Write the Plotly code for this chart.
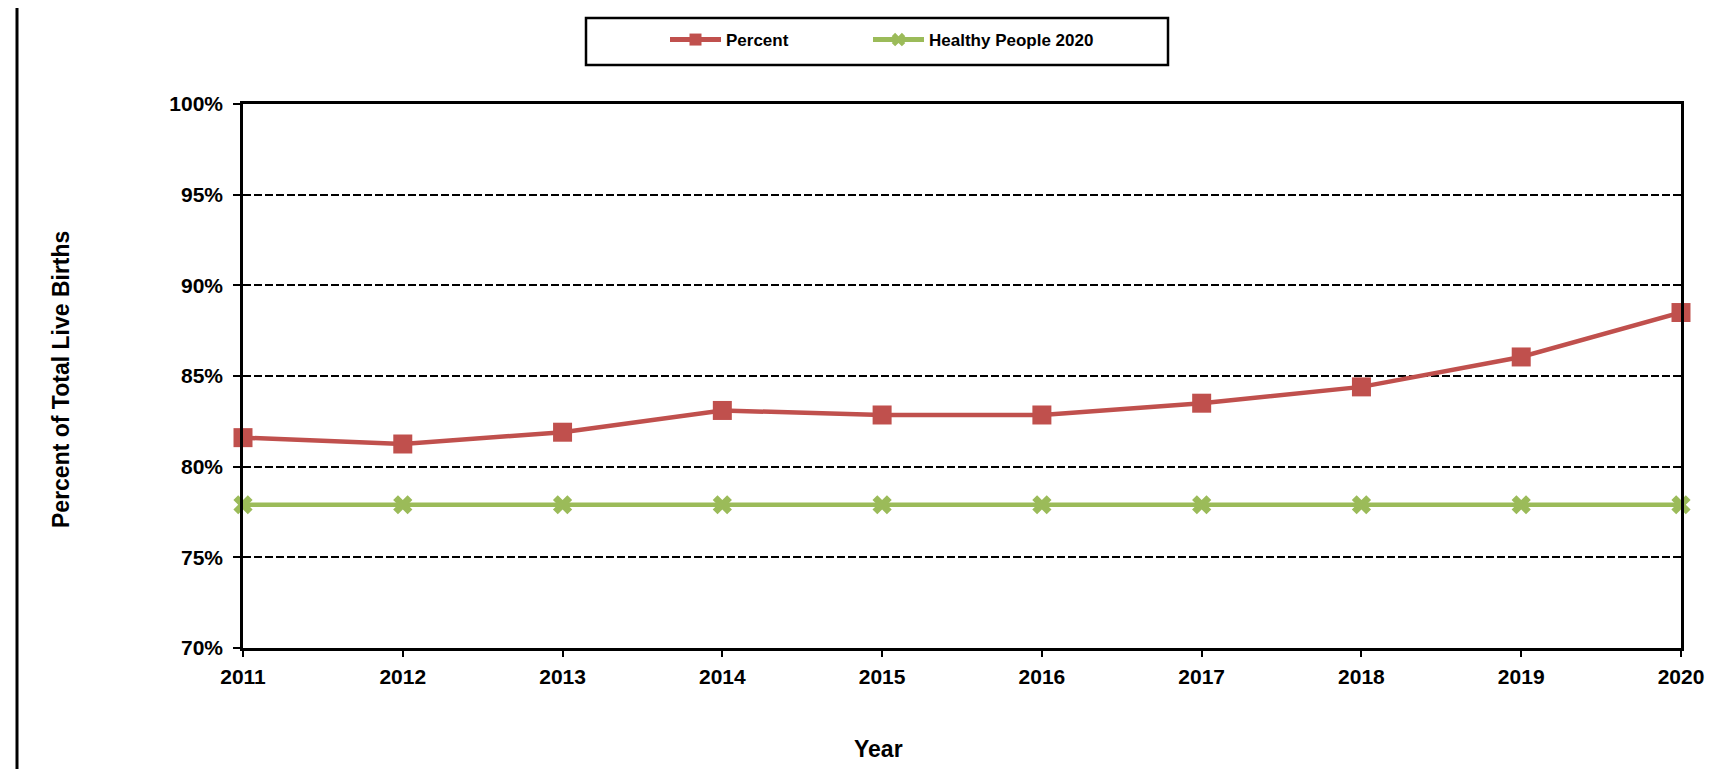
import plotly.graph_objects as go

years = [2011, 2012, 2013, 2014, 2015, 2016, 2017, 2018, 2019, 2020]
percent = [81.6, 81.25, 81.9, 83.1, 82.85, 82.85, 83.5, 84.4, 86.05, 88.5]
healthy_people = [77.9] * 10
y_ticks = [70, 75, 80, 85, 90, 95, 100]

RED = "#C0504D"
GREEN = "#9BBB59"
FONT = "Liberation Sans, Arial, sans-serif"

fig = go.Figure()
fig.add_trace(go.Scatter(
    x=years, y=percent, name="Percent", mode="lines+markers",
    line=dict(color=RED, width=4.5),
    marker=dict(symbol="square", size=19, color=RED),
    cliponaxis=False, legend="legend",
))
fig.add_trace(go.Scatter(
    x=years, y=healthy_people, name="Healthy People 2020", mode="lines+markers",
    line=dict(color=GREEN, width=4.5),
    marker=dict(symbol="x", size=17, color=GREEN),
    cliponaxis=False, legend="legend2",
))

W, H = 1722, 769
L, R, T, B = 235, 49, 96, 129
pw = W - L - R
ph = H - T - B

def px_x(x):
    return (x - L) / pw

def px_y(y):
    return (H - B - y) / ph

legend_common = dict(
    orientation="h", xref="container", yref="container",
    xanchor="left", yanchor="top", y=1 - 14 / H,
    font=dict(size=17, family=FONT, weight="bold", color="black"),
    itemwidth=51, itemsizing="constant",
    bgcolor="rgba(0,0,0,0)", borderwidth=0,
)

fig.update_layout(
    width=W, height=H,
    margin=dict(l=L, r=R, t=T, b=B, autoexpand=False),
    paper_bgcolor="white", plot_bgcolor="white",
    font=dict(family=FONT, color="black", size=21, weight="bold"),
    showlegend=True,
    legend=dict(legend_common, x=657 / W),
    legend2=dict(legend_common, x=860 / W),
    xaxis=dict(
        range=[2011, 2020], tickmode="array", tickvals=years,
        ticktext=[str(y) for y in years],
        showgrid=False, zeroline=False,
        showline=True, linecolor="black", linewidth=2.5, mirror=True,
        ticks="outside", ticklen=6, tickwidth=1.5, tickcolor="black",
        ticklabelstandoff=2,
        tickfont=dict(size=21, family=FONT, weight="bold"),
    ),
    yaxis=dict(
        range=[70, 100], tickmode="array", tickvals=y_ticks,
        ticktext=[f"{v}%" for v in y_ticks],
        showgrid=True, gridcolor="black", gridwidth=1.6, griddash="8px,3px",
        zeroline=False,
        showline=True, linecolor="black", linewidth=2.5, mirror=True,
        ticks="outside", ticklen=7, tickwidth=1.5, tickcolor="black",
        ticklabelstandoff=6,
        tickfont=dict(size=21, family=FONT, weight="bold"),
    ),
    annotations=[
        dict(text="Year", x=px_x(870), y=px_y(741), xref="paper", yref="paper",
             showarrow=False, xanchor="center", yanchor="middle",
             font=dict(size=23, family=FONT, weight="bold")),
        dict(text="Percent of Total Live Births", x=px_x(53), y=px_y(372),
             xref="paper", yref="paper", textangle=-90,
             showarrow=False, xanchor="center", yanchor="middle",
             font=dict(size=23, family=FONT, weight="bold")),
    ],
    shapes=[
        dict(type="rect", xref="paper", yref="paper",
             x0=px_x(578), x1=px_x(1160), y0=px_y(57), y1=px_y(10),
             line=dict(color="black", width=2.5), fillcolor="rgba(0,0,0,0)"),
        dict(type="line", xref="paper", yref="paper",
             x0=px_x(9), x1=px_x(9), y0=-1, y1=2,
             line=dict(color="black", width=3)),
    ],
)

fig.write_html("out.html")
